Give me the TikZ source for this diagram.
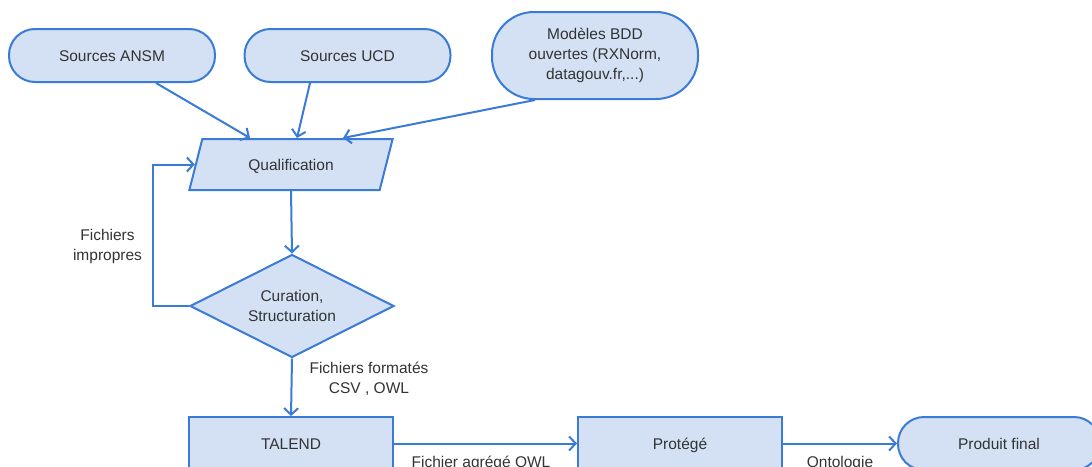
\documentclass[tikz,border=0pt]{standalone}
\usepackage{fontspec}
\setmainfont{Liberation Sans}
\usetikzlibrary{shapes.geometric,arrows.meta,calc}
\definecolor{stroke}{HTML}{3A7BD5}
\definecolor{fillb}{HTML}{D4E1F5}
\definecolor{txt}{HTML}{333333}
\tikzset{
  base/.style={draw=stroke, fill=fillb, line width=2pt, text=txt, inner sep=0pt, align=center},
  oneline/.style={text height=13pt, text depth=1pt},
  stadium/.style={base, rectangle, rounded corners=#1, minimum width=206pt},
  boxn/.style={base, oneline, rectangle, minimum width=204pt, minimum height=53pt},
  para/.style={base, oneline, trapezium, trapezium left angle=66, trapezium right angle=114, trapezium stretches=true, minimum width=204pt, minimum height=51pt},
  decision/.style={base, diamond, aspect=2, minimum width=204pt, minimum height=103pt},
  lbl/.style={text=txt, align=center, inner sep=0pt},
  conn/.style={draw=stroke, line width=2pt, -{Straight Barb[length=6.5pt,width=14pt]}},
}
\begin{document}
\begin{tikzpicture}[x=1pt,y=-1pt,font=\fontsize{15.5}{20}\selectfont]
\useasboundingbox (0,0) rectangle (1092,466);
\clip (0,0) rectangle (1092,466);
\node[stadium=26pt, oneline, minimum height=53pt] (ansm) at (112,55.5) {Sources ANSM};
\node[stadium=26pt, oneline, minimum height=53pt] (ucd) at (347.5,55.5) {Sources UCD};
\node[stadium=42pt, minimum height=87pt] (bdd) at (595,55.5) {Modèles BDD\\ouvertes (RXNorm,\\datagouv.fr,...)};
\node[para] (q) at (291,164.5) {Qualification};
\node[decision] (d) at (292,306) {Curation,\\Structuration};
\node[boxn] (t) at (291,443.5) {TALEND};
\node[boxn] (p) at (680,443.5) {Protégé};
\node[stadium=26pt, oneline, minimum height=53pt, minimum width=202pt] (f) at (999,443.5) {Produit final};

\draw[conn] ($(ansm.south)+(44,0)$) -- ($(q.north)+(-41,0)$);
\draw[conn] ($(ucd.south)+(-37.5,0)$) -- ($(q.north)+(6,0)$);
\draw[conn] ($(bdd.south)+(-60,0)$) -- ($(q.north)+(52,0)$);
\draw[conn] (q.south) -- (d.north);
\draw[conn] (d.west) -- ++(-36,0) |- (q.west);
\draw[conn] (d.south) -- (t.north);
\draw[conn] (t.east) -- (p.west);
\draw[conn] (p.east) -- (f.west);

\node[lbl] (l1) at (107.5,246) {Fichiers\\impropres};
\node[lbl] (l2) at (369,379) {Fichiers formatés\\CSV , OWL};
\node[lbl] (l3) at (481,463) {Fichier agrégé OWL};
\node[lbl] (l4) at (840,463) {Ontologie};
\end{tikzpicture}
\end{document}
